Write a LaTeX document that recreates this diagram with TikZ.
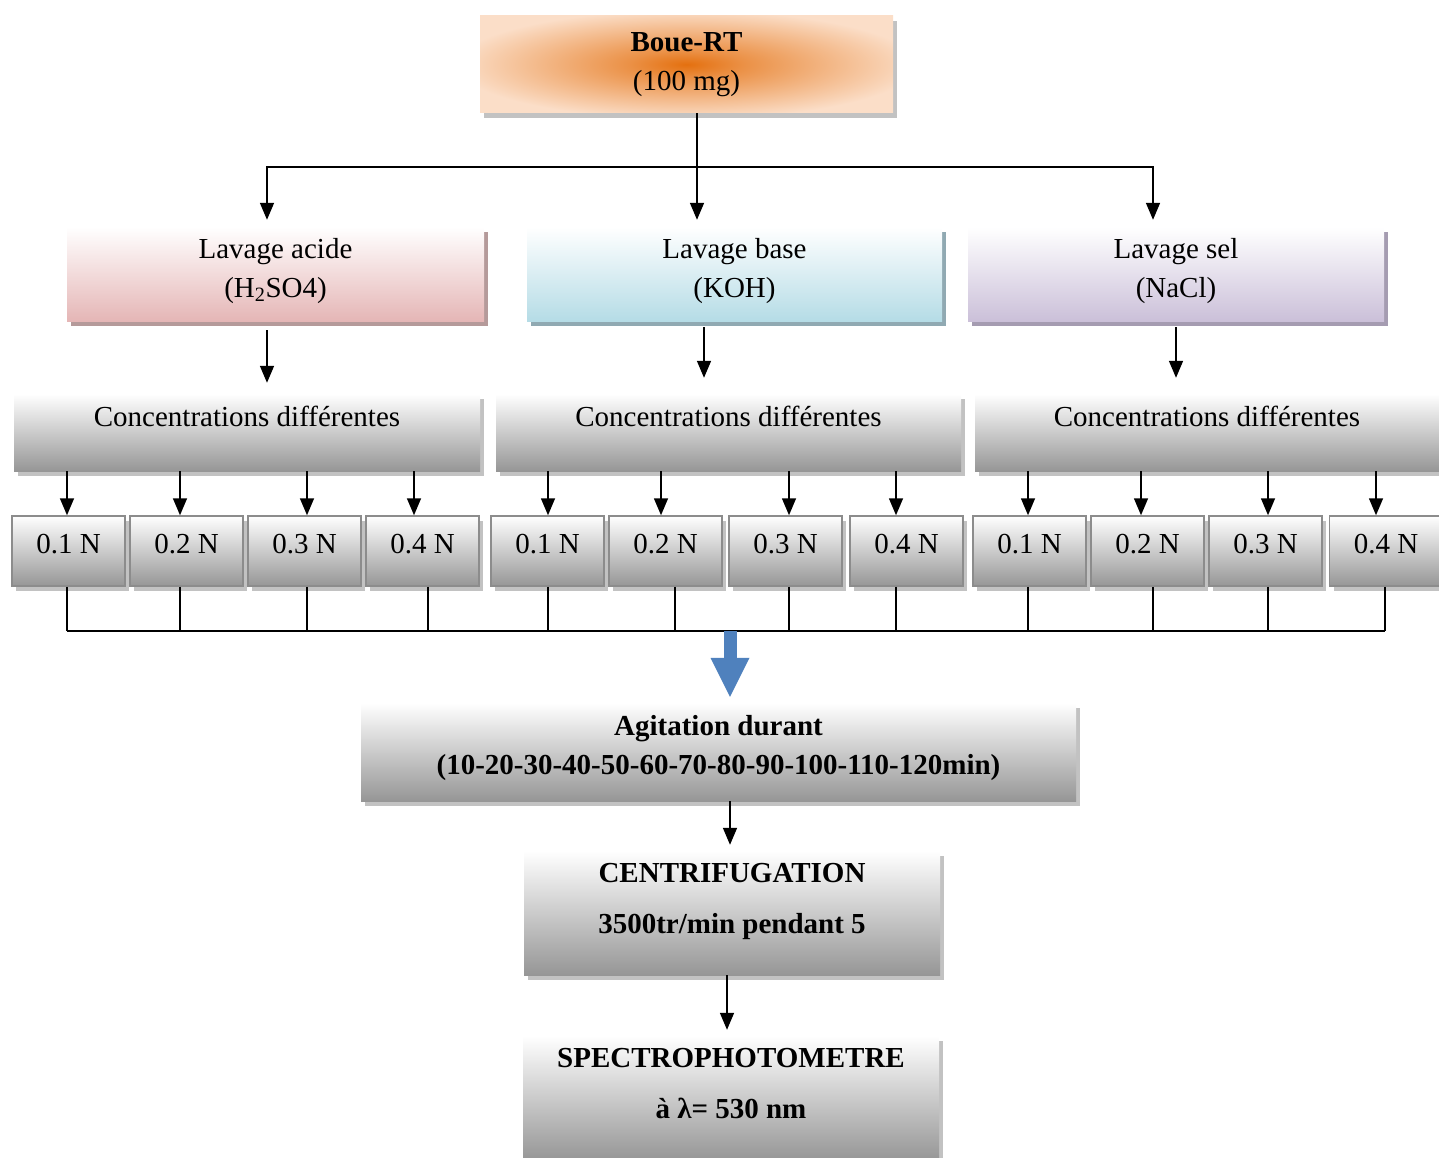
\documentclass[tikz,border=0pt]{standalone}
\usepackage{fontspec}
\setmainfont{Liberation Serif}
\usetikzlibrary{arrows.meta, calc, shadows, positioning}
\definecolor{bouepeach}{HTML}{FBDEC8}
\definecolor{boueorange}{HTML}{E4700F}
\definecolor{acidpink}{HTML}{E5B6B6}
\definecolor{acidshade}{HTML}{B59A9A}
\definecolor{baseblue}{HTML}{B5DCE6}
\definecolor{baseshade}{HTML}{90A9B2}
\definecolor{selmauve}{HTML}{CBC0D9}
\definecolor{selshade}{HTML}{A59CB1}
\definecolor{boxgray}{HTML}{969696}
\definecolor{shadegray}{HTML}{C2C2C2}
\definecolor{arrowblue}{HTML}{4F81BD}
\pgfdeclareradialshading{boueshading}{\pgfpoint{0bp}{0bp}}{%
    color(0bp)=(boueorange); color(7bp)=(boueorange!70!bouepeach);
    color(28bp)=(bouepeach); color(50bp)=(bouepeach)}
\newcommand\boxfont{\fontsize{29}{39}\selectfont}
\newcommand\tallfont{\fontsize{29}{51}\selectfont}
\tikzset{
    box/.style={rectangle, inner sep=0pt, align=center, font=\boxfont},
    washbox/.style 2 args={box, minimum height=94pt, top color=white, bottom color=#1,
        text depth=13pt, drop shadow={shadow xshift=4pt, shadow yshift=-5pt, fill=#2, opacity=1}},
    graybox/.style={box, top color=white, bottom color=boxgray,
        drop shadow={shadow xshift=4pt, shadow yshift=-5pt, fill=shadegray, opacity=1}},
    concbox/.style={graybox, minimum height=77pt, text height=21pt, text depth=34pt},
    normbox/.style={graybox, draw=black!45, line width=1.5pt, minimum width=113pt,
        minimum height=70pt, text height=21pt, text depth=17pt},
    endbox/.style={graybox, font=\tallfont\bfseries, minimum width=416pt,
        minimum height=124pt, text depth=30pt},
    link/.style={line width=1.6pt},
    arr/.style={link, -{Triangle[width=14pt, length=17pt]}},
    bigarrow/.style={draw=arrowblue, line width=13pt,
        -{Triangle[width=39pt, length=39pt, line width=0pt]}}
}

\begin{document}
\begin{tikzpicture}[x=1pt, y=-1pt]
    \useasboundingbox (0,0) rectangle (1439,1158);
    % Sample
    \node[box, minimum width=413pt, minimum height=97pt, shading=boueshading,
        drop shadow={shadow xshift=4pt, shadow yshift=-5pt, fill=shadegray, opacity=1}]
        (boue) at (686.5,64.5) {\textbf{Boue-RT}\\(100 mg)};
    % Washings
    \node[washbox={acidpink}{acidshade}, minimum width=417pt] (acide) at (275.5,274)
        {Lavage acide\\(H\textsubscript{2}SO4)};
    \node[washbox={baseblue}{baseshade}, minimum width=415pt] (base) at (734.5,274)
        {Lavage base\\(KOH)};
    \node[washbox={selmauve}{selshade}, minimum width=416pt] (sel) at (1176,274)
        {Lavage sel\\(NaCl)};
    \coordinate (split) at (697,167);
    \draw[link] ([xshift=10.5pt]boue.south) -- (split);
    \draw[arr, shorten >=7pt] (split) -| ([xshift=-8.5pt]acide.north);
    \draw[arr, shorten >=7pt] (split) -- ([xshift=-37.5pt]base.north);
    \draw[arr, shorten >=7pt] (split) -| ([xshift=-23pt]sel.north);
    % Concentrations
    \node[concbox, minimum width=466pt] (conc1) at (247,432.5) {Concentrations différentes};
    \node[concbox, minimum width=465pt] (conc2) at (728.5,432.5) {Concentrations différentes};
    \node[concbox, minimum width=464pt] (conc3) at (1207,432.5) {Concentrations différentes};
    \draw[arr, shorten <=9pt, shorten >=11pt] ([xshift=-8.5pt]acide.south) -- ([xshift=20pt]conc1.north);
    \draw[arr, shorten <=6pt, shorten >=16pt] ([xshift=-30.5pt]base.south) -- ([xshift=-24.5pt]conc2.north);
    \draw[arr, shorten <=6pt, shorten >=16pt] (sel.south) -- ([xshift=-31pt]conc3.north);
    % Normalities
    \foreach \i/\x/\t in {1/68.5/1, 2/186.5/2, 3/304.5/3, 4/422.5/4,
                          5/547.5/1, 6/665.5/2, 7/785.5/3, 8/906.5/4,
                          9/1029.5/1, 10/1147.5/2, 11/1265.5/3, 12/1386/4}
        \node[normbox] (s\i) at (\x,551) {0.\t\ N};
    \coordinate (merge) at (730,631);
    \foreach \i/\g/\da/\db in {1/1/-1.5/-1.5, 2/1/-6.5/-6.5, 3/1/2.5/2.5, 4/1/-8.5/5.5,
                               5/2/0.5/0.5, 6/2/-4.5/9.5, 7/2/3.5/3.5, 8/2/-10.5/-10.5,
                               9/3/-1.5/-1.5, 10/3/-6.5/5.5, 11/3/2.5/2.5, 12/3/-10/-1} {
        \draw[arr] ($(conc\g.south -| s\i.north)+(\da,0)$) -- ($(s\i.north)+(\da,0)$);
        \draw[link] ($(s\i.south)+(\db,0)$) -- ($(s\i.south |- merge)+(\db,0)$);
    }
    \draw[link] ($(s1.south |- merge)+(-1.5,0)$) -- ($(s12.south |- merge)+(-1,0)$);
    % Agitation
    \node[graybox, font=\boxfont\bfseries, minimum width=715pt, minimum height=98pt,
        text depth=14pt] (agit) at (718.5,752)
        {Agitation durant\\(10-20-30-40-50-60-70-80-90-100-110-120min)};
    \draw[bigarrow, shorten >=6pt] (merge) -- (merge |- agit.north);
    % Centrifugation and reading
    \node[endbox] (centri) at (732,913) {CENTRIFUGATION\\3500tr/min pendant 5};
    \node[endbox] (spectro) at (731,1098) {SPECTROPHOTOMETRE\\à λ= 530 nm};
    \draw[arr, shorten >=6pt] ([xshift=-2pt]agit.south -| centri.north) -- ([xshift=-2pt]centri.north);
    \draw[arr, shorten >=6pt] ([xshift=-5pt]centri.south) -- ([xshift=-4pt]spectro.north);
\end{tikzpicture}
\end{document}
